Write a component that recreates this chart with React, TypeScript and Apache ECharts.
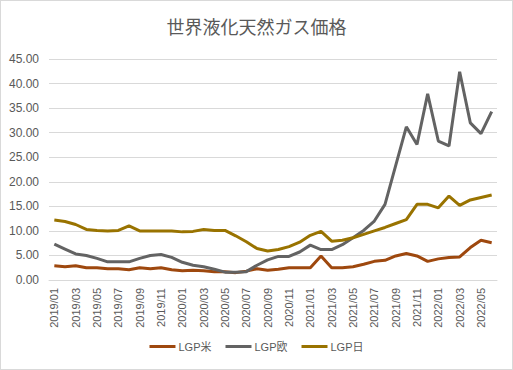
import React, { useEffect, useRef } from "react";
import * as echarts from "echarts";

const months: string[] = [];
for (let y = 2019; y <= 2022; y++) {
  for (let m = 1; m <= 12; m++) {
    if (y === 2022 && m > 6) break;
    months.push(`${y}/${m < 10 ? "0" + m : m}`);
  }
}

const lgpUS = [2.9, 2.7, 2.9, 2.5, 2.5, 2.3, 2.3, 2.1, 2.5, 2.3, 2.5, 2.1, 1.9, 2.0, 1.9, 1.7, 1.7, 1.5, 1.8, 2.3, 2.0, 2.2, 2.5, 2.5, 2.5, 4.9, 2.5, 2.5, 2.7, 3.2, 3.8, 4.0, 4.9, 5.4, 4.9, 3.8, 4.3, 4.6, 4.7, 6.6, 8.1, 7.6];
const lgpEU = [7.3, 6.3, 5.3, 5.0, 4.4, 3.7, 3.7, 3.7, 4.4, 5.0, 5.2, 4.6, 3.6, 3.0, 2.7, 2.2, 1.6, 1.6, 1.7, 3.0, 4.1, 4.8, 4.8, 5.7, 7.1, 6.2, 6.2, 7.2, 8.6, 10.1, 12.0, 15.4, 23.3, 31.2, 27.6, 37.9, 28.3, 27.3, 42.4, 32.0, 29.8, 34.3];
const lgpJP = [12.2, 11.9, 11.3, 10.3, 10.1, 10.0, 10.1, 11.0, 10.0, 10.0, 10.0, 10.0, 9.8, 9.9, 10.3, 10.1, 10.1, 9.0, 7.8, 6.4, 5.9, 6.2, 6.8, 7.7, 9.1, 9.9, 7.9, 8.1, 8.6, 9.3, 10.0, 10.7, 11.5, 12.3, 15.4, 15.4, 14.7, 17.1, 15.2, 16.3, 16.8, 17.3];

const seriesNames = ["LGP米", "LGP欧", "LGP日"];
const colors = ["#9E480E", "#636363", "#997300"];

const FONT = "'Liberation Sans', 'Noto Sans CJK JP', sans-serif";

export default function App() {
  const ref = useRef<HTMLDivElement>(null);
  useEffect(() => {
    if (!ref.current) return;
    const chart = echarts.init(ref.current, undefined, { renderer: "svg" });
    const data = [lgpUS, lgpEU, lgpJP];
    chart.setOption({
      animation: false,
      color: colors,
      textStyle: { fontFamily: FONT },
      title: {
        text: "世界液化天然ガス価格",
        left: "center",
        top: 11,
        textStyle: {
          fontFamily: "'Noto Sans CJK JP', sans-serif",
          fontSize: 18,
          fontWeight: "normal",
          color: "#595959",
        },
      },
      legend: {
        bottom: 12,
        left: "center",
        itemWidth: 26,
        itemHeight: 3,
        itemGap: 14,
        icon: "rect",
        textStyle: { fontFamily: FONT, fontSize: 11, color: "#595959", padding: [0, 0, 0, -2] },
        data: seriesNames,
      },
      grid: { left: 48, right: 15, top: 58, bottom: 89 },
      xAxis: {
        type: "category",
        data: months,
        boundaryGap: true,
        axisLine: { lineStyle: { color: "#d9d9d9" } },
        axisTick: { interval: 1, lineStyle: { color: "#d9d9d9" }, length: 5 },
        axisLabel: {
          interval: 1,
          rotate: 90,
          fontSize: 11,
          color: "#595959",
          fontFamily: FONT,
          margin: 8,
        },
      },
      yAxis: {
        type: "value",
        min: 0,
        max: 45,
        interval: 5,
        axisLine: { show: false },
        axisTick: { show: false },
        splitLine: { lineStyle: { color: "#d9d9d9" } },
        axisLabel: {
          formatter: (v: number) => v.toFixed(2),
          fontSize: 12,
          color: "#595959",
          fontFamily: FONT,
          margin: 10,
        },
      },
      series: seriesNames.map((name, i) => ({
        name,
        type: "line",
        data: data[i],
        symbol: "none",
        lineStyle: { width: 3, color: colors[i] },
        itemStyle: { color: colors[i] },
      })),
    });
    return () => chart.dispose();
  }, []);
  return (
    <div
      style={{
        position: "fixed",
        left: 0,
        top: 0,
        width: 513,
        height: 370,
        boxSizing: "border-box",
        border: "1px solid #d9d9d9",
        background: "#fff",
      }}
    >
      <div ref={ref} style={{ width: 511, height: 368 }} />
    </div>
  );
}
